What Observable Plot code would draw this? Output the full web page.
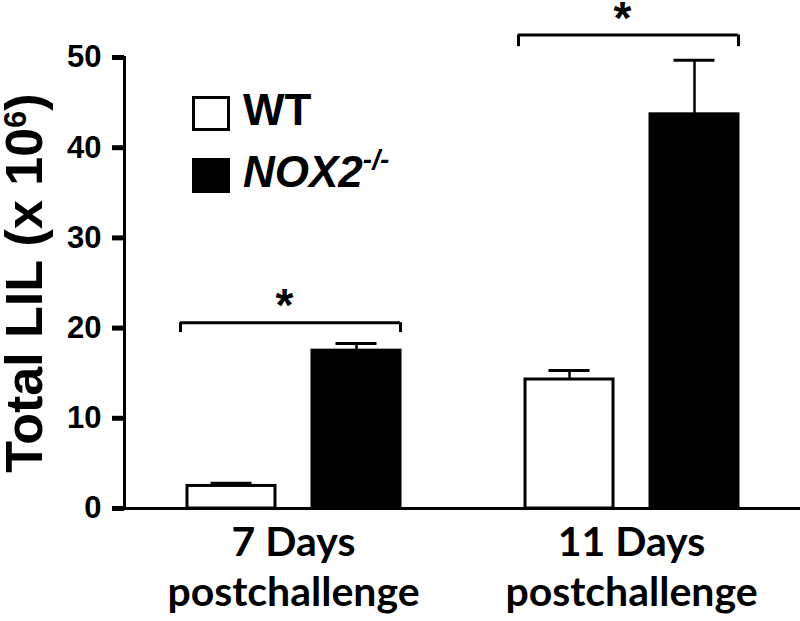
<!DOCTYPE html>
<html><head><meta charset="utf-8">
<script src="https://cdn.jsdelivr.net/npm/d3@7"></script>
<script src="https://cdn.jsdelivr.net/npm/@observablehq/plot@0.6"></script>
<style>
body{margin:0;background:#fff}
#wrap{position:relative;width:800px;height:621px}
.legend{position:absolute;left:192px;top:0;font-family:"Liberation Sans",Arial,sans-serif;font-weight:bold;font-size:44px;line-height:1;color:#000}
.item{position:absolute;left:0;display:flex;align-items:center;white-space:nowrap}
.item span{position:relative;top:-3px}
.sw{width:38px;height:35px;box-sizing:border-box;border:3px solid #000;margin-right:13px}
.item sup{font-size:28px;vertical-align:0;position:relative;top:-18px}
g[aria-label="y-axis label"] text{font-size:52px}
</style></head><body><div id="wrap"></div>
<script>
// ---- data ----
const groups = ["7 Days", "11 Days"];
const groupLabels = ["7 Days\npostchallenge", "11 Days\npostchallenge"];
const genotypes = ["WT", "NOX2"];
const genotypeNames = ["WT", "NOX2"];
const genotypeSup = ["", "-/-"];
const genotypeFills = ["white", "black"];
const meanWT = [2.5, 14.3];
const meanNOX = [17.5, 43.7];
const semWT = [0.3, 1.0];
const semNOX = [0.8, 6.0];
const bracketY = [20.6, 52.5];
const bracketTickY = [19.5, 51.2];
const significance = ["*", "*"];
const yTicks = [0, 10, 20, 30, 40, 50];
const yLabel = "Total LIL (x 10^6)";

// ---- tables ----
const rows = [];
groups.forEach((g, i) => {
  rows.push({group: g, genotype: "WT", mean: meanWT[i], sem: semWT[i]});
  rows.push({group: g, genotype: "NOX2", mean: meanNOX[i], sem: semNOX[i]});
});
const brackets = groups.map((g, i) => ({group: g, y: bracketY[i], y0: bracketTickY[i], label: significance[i]}));
const fillOf = g => genotypeFills[genotypes.indexOf(g)];

const base = {
  width: 800, height: 621,
  marginLeft: 124, marginRight: 0, marginTop: 57, marginBottom: 113,
  fx: {domain: groups, padding: 0},
  x: {domain: genotypes, paddingInner: 0.3, paddingOuter: 0.5, axis: null},
  y: {domain: [0, 50]},
  style: {background: "white", color: "black", overflow: "visible"}
};

// first pass to read the band width
const probe = Plot.plot({...base, marks: [Plot.barY(rows, {fx: "group", x: "genotype", y: "mean"})]});
const bw = probe.scale("x").bandwidth;
const capInset = (bw - 41) / 2;

const fontA = "'Liberation Sans', Arial, sans-serif";
const svg = Plot.plot({
  ...base,
  marks: [
    Plot.barY(rows, {fx: "group", x: "genotype", y: "mean", fill: d => fillOf(d.genotype), stroke: "black", strokeWidth: 3}),
    Plot.ruleX(rows, {fx: "group", x: "genotype", y1: "mean", y2: d => d.mean + d.sem, strokeWidth: 2.5}),
    Plot.tickY(rows, {fx: "group", x: "genotype", y: d => d.mean + d.sem, strokeWidth: 3, insetLeft: capInset, insetRight: capInset}),
    Plot.ruleY([0], {strokeWidth: 3}),
    Plot.ruleY(brackets, {fx: "group", x1: () => "WT", x2: () => "NOX2", y: "y", strokeWidth: 3, insetLeft: -7}),
    Plot.ruleX(brackets, {fx: "group", x: () => "WT", y1: "y0", y2: "y", strokeWidth: 3, dx: -bw / 2 - 7}),
    Plot.ruleX(brackets, {fx: "group", x: () => "NOX2", y1: "y0", y2: "y", strokeWidth: 3, dx: bw / 2}),
    Plot.text(brackets, {fx: "group", y: "y", text: "label", fontSize: 46, fontWeight: "bold", fontFamily: fontA, dy: -16, dx: -9}),
    Plot.frame({anchor: "left", facetAnchor: "left", strokeWidth: 3}),
    Plot.axisY({ticks: yTicks, tickSize: 12, tickPadding: 11, strokeWidth: 5, fontSize: 31, fontWeight: "bold", fontFamily: fontA,
      label: yLabel, labelAnchor: "center", labelOffset: 119, labelArrow: "none"}),
    Plot.axisFx({anchor: "bottom", tickSize: 0, tickPadding: 12, label: null,
      tickFormat: g => groupLabels[groups.indexOf(g)], fontSize: 41, fontWeight: "bold", fontFamily: "Lato, 'Open Sans', sans-serif", lineHeight: 1.22})
  ]
});

// superscript in the y label
const lab = svg.querySelector('g[aria-label="y-axis label"] text');
if (lab) {
  const [pre, sup] = yLabel.split("^");
  lab.textContent = "";
  const NS = "http://www.w3.org/2000/svg";
  const t1 = document.createElementNS(NS, "tspan"); t1.textContent = pre;
  const t2 = document.createElementNS(NS, "tspan"); t2.textContent = sup.replace(")", ""); t2.setAttribute("dy", "-16"); t2.setAttribute("font-size", "31");
  const t3 = document.createElementNS(NS, "tspan"); t3.textContent = ")"; t3.setAttribute("dy", "16");
  lab.append(t1, t2, t3);
}

const wrap = document.getElementById("wrap");
wrap.appendChild(svg);

// legend
const leg = document.createElement("div");
leg.className = "legend";
const tops = [91, 153];
genotypes.forEach((g, i) => {
  const it = document.createElement("div");
  it.className = "item";
  it.style.top = tops[i] + "px";
  const sw = document.createElement("div");
  sw.className = "sw";
  sw.style.background = genotypeFills[i];
  const tx = document.createElement("span");
  tx.textContent = genotypeNames[i];
  if (i === 1) tx.style.fontStyle = "italic";
  if (genotypeSup[i]) { const s = document.createElement("sup"); s.textContent = genotypeSup[i]; tx.appendChild(s); }
  it.append(sw, tx);
  leg.appendChild(it);
});
wrap.appendChild(leg);
</script></body></html>
